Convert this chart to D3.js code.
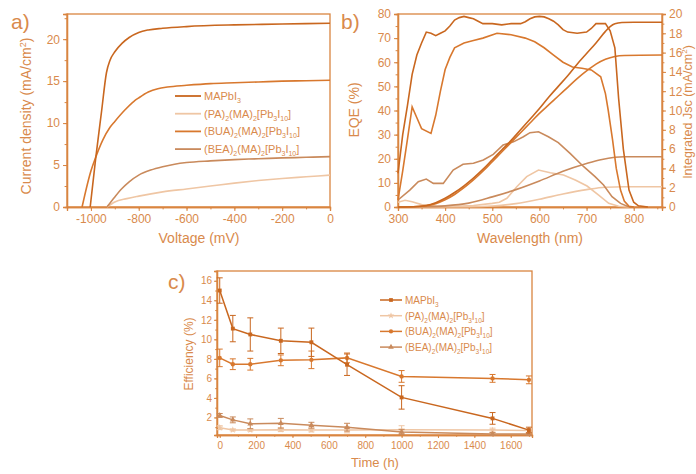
<!DOCTYPE html>
<html>
<head>
<meta charset="utf-8">
<script src="https://cdnjs.cloudflare.com/ajax/libs/d3/7.8.5/d3.min.js"></script>
<style>
  body { margin: 0; background: #fff; }
  text { font-family: "Liberation Sans", Arial, sans-serif; }
</style>
</head>
<body>
<script>
// ---------- data ----------
const seriesNames = ["MAPbI3", "PA", "BUA", "BEA"];
const seriesColor = { MAPbI3: "#c9671f", PA: "#efc6a4", BUA: "#d8782e", BEA: "#c98a5c" };
const legendParts = {
  MAPbI3: [["MAPbI", 0], ["3", 1]],
  PA:  [["(PA)", 0], ["2", 1], ["(MA)", 0], ["2", 1], ["[Pb", 0], ["3", 1], ["I", 0], ["10", 1], ["]", 0]],
  BUA: [["(BUA)", 0], ["2", 1], ["(MA)", 0], ["2", 1], ["[Pb", 0], ["3", 1], ["I", 0], ["10", 1], ["]", 0]],
  BEA: [["(BEA)", 0], ["2", 1], ["(MA)", 0], ["2", 1], ["[Pb", 0], ["3", 1], ["I", 0], ["10", 1], ["]", 0]]
};

// a) J-V curves  [voltage mV, current density mA/cm2]
const jvMAPbI3 = [[-1003,0],[-980,5.8],[-955,11.5],[-935,16],[-920,17.5],[-900,18.5],[-870,19.5],[-840,20.2],[-800,20.8],[-760,21.1],[-700,21.3],[-600,21.5],[-400,21.7],[-200,21.8],[0,21.9]];
const jvBUA = [[-1037,0],[-1000,4.3],[-979,6],[-950,8],[-920,9.5],[-900,10.2],[-860,11.5],[-820,12.6],[-800,13.0],[-760,13.7],[-720,14.1],[-680,14.3],[-600,14.5],[-500,14.7],[-400,14.8],[-300,14.9],[-200,15.0],[-100,15.05],[0,15.1]];
const jvBEA = [[-933,0],[-900,1.2],[-870,2.2],[-840,3.0],[-800,3.8],[-750,4.4],[-700,4.8],[-650,5.1],[-600,5.3],[-500,5.5],[-400,5.65],[-300,5.75],[-200,5.85],[-100,5.92],[0,6.0]];
const jvPA = [[-933,0],[-900,0.6],[-850,1.0],[-800,1.3],[-700,1.8],[-600,2.15],[-500,2.5],[-400,2.85],[-300,3.15],[-200,3.4],[-100,3.6],[0,3.8]];

// b) EQE (%)  [wavelength nm, EQE]
const eqeMAPbI3 = [[300,14],[310,30],[320,42],[330,55],[340,63],[350,68],[360,72.5],[370,72],[380,71],[390,72],[400,73],[410,75],[420,77.5],[430,78.5],[440,79],[450,78.5],[460,78],[470,77],[480,76],[500,76],[520,75.5],[540,76],[560,76],[570,76.8],[580,78],[590,78.8],[600,79],[610,78.8],[620,78],[630,77],[640,75.5],[650,73.5],[660,72.5],[680,72],[700,72.5],[710,74],[720,76],[740,76],[750,73],[760,66],[768,45],[778,24],[790,7],[800,2],[810,0.5],[830,0]];
const eqeBUA = [[300,3],[310,15],[320,28],[330,41.5],[340,37],[350,32.5],[370,30.5],[380,38],[390,48],[400,57],[410,62],[420,66],[440,68],[460,69],[480,70],[510,72],[540,71.4],[570,70],[590,68.5],[610,66],[630,63],[650,60],[670,58],[690,57.5],[710,56.8],[730,54],[740,47],[746,40],[755,28],[763,16],[772,7],[780,2.5],[790,0.3],[800,0]];
const eqeBEA = [[300,2.9],[325,7],[343,10.5],[360,11.6],[375,9.8],[396,9.8],[417,15.3],[438,17.7],[460,18.1],[481,19.5],[502,21.8],[523,25.7],[545,27],[566,29.1],[580,30.8],[598,31.2],[619,29.1],[640,26.7],[665,22.2],[694,16.7],[718,12.6],[736,9.1],[754,4.3],[772,1.5],[789,0.1],[800,0]];
const eqePA = [[300,2],[315,2.8],[330,2.2],[350,1],[380,0.4],[420,0.3],[460,0.6],[500,1.5],[515,2],[531,3.6],[552,8.4],[573,12.6],[598,15.3],[623,14.2],[651,13.3],[676,11.2],[701,8.7],[725,5],[747,1.5],[768,0.3],[790,0]];

// b) integrated Jsc (mA/cm2)
const jscMAPbI3 = [[300,0],[340,0.05],[360,0.15],[380,0.45],[400,0.9],[420,1.5],[440,2.2],[460,3.0],[480,3.9],[500,4.9],[520,5.9],[540,6.9],[560,8.0],[580,9.1],[600,10.2],[620,11.4],[640,12.5],[660,13.6],[680,14.8],[700,15.9],[720,17.0],[740,18.2],[750,18.7],[760,19.0],[775,19.12],[800,19.15],[860,19.15]];
const jscBUA = [[300,0],[340,0.05],[360,0.12],[380,0.35],[400,0.75],[420,1.3],[440,2.0],[460,2.8],[480,3.7],[500,4.7],[520,5.7],[540,6.7],[560,7.7],[580,8.7],[600,9.7],[620,10.6],[640,11.5],[660,12.4],[680,13.3],[700,14.1],[720,14.8],[740,15.3],[760,15.6],[780,15.7],[860,15.75]];
const jscBEA = [[300,0],[350,0.03],[400,0.12],[450,0.4],[500,1.05],[550,1.8],[600,2.7],[650,3.7],[700,4.5],[730,4.9],[760,5.15],[780,5.2],[860,5.2]];
const jscPA = [[300,0],[450,0.03],[500,0.1],[550,0.35],[600,0.8],[650,1.35],[700,1.8],[740,2.05],[780,2.1],[860,2.1]];

// c) stability
const hours = [0, 72, 168, 336, 504, 700, 1000, 1500, 1700];
const effMAPbI3 = [15.0, 11.1, 10.5, 9.85, 9.7, 7.4, 4.05, 1.9, 0.7];
const errMAPbI3 = [1.3, 1.35, 1.7, 1.3, 1.45, 1.1, 1.2, 0.6, 0.3];
const effBUA = [8.1, 7.45, 7.45, 7.85, 7.9, 8.1, 6.2, 6.0, 5.85];
const errBUA = [0.9, 0.55, 0.6, 0.55, 0.9, 0.5, 0.6, 0.4, 0.4];
const effBEA = [2.2, 1.75, 1.35, 1.4, 1.2, 1.0, 0.5, 0.3, 0.3];
const errBEA = [0.2, 0.3, 0.5, 0.5, 0.3, 0.4, 0.25, 0.15, 0.15];
const effPA = [0.95, 0.72, 0.7, 0.75, 0.72, 0.72, 0.75, 0.7, 0.65];
const errPA = [0.2, 0.1, 0.1, 0.2, 0.2, 0.3, 0.4, 0.2, 0.2];

// ---------- drawing ----------
const W = 696, H = 474;
const axisColor = "#d98540", textColor = "#d98a4c";

const svg = d3.select("body").append("svg").attr("width", W).attr("height", H);

function styleAxis(g, fs) {
  g.select(".domain").attr("stroke", axisColor).attr("stroke-width", 1.3);
  g.selectAll(".tick line").attr("stroke", axisColor).attr("stroke-width", 1);
  g.selectAll(".tick text").attr("fill", textColor).style("font-size", fs + "px")
    .style("font-family", '"Liberation Sans", Arial, sans-serif');
}

// minor ticks first, then labelled major ticks (plain hyphen minus, like the original)
function addAxis(axisFn, scale, major, minor, pos, fs, tick, pad) {
  const gMin = svg.append("g").attr("transform", pos)
    .call(axisFn(scale).tickValues(minor).tickSize(tick * 0.6).tickFormat(""));
  styleAxis(gMin, fs);
  const g = svg.append("g").attr("transform", pos)
    .call(axisFn(scale).tickValues(major).tickSize(tick).tickPadding(pad).tickFormat(d => String(d)));
  styleAxis(g, fs);
  return g;
}

function frame(l, t, r, b) {
  svg.append("rect").attr("x", l).attr("y", t).attr("width", r - l).attr("height", b - t)
    .attr("fill", "none").attr("stroke", axisColor).attr("stroke-width", 1.3);
}

function legendText(sel, parts, subSize) {
  let shifted = false;
  parts.forEach(p => {
    const ts = sel.append("tspan").text(p[0]);
    if (p[1] && !shifted) { ts.attr("dy", 3).style("font-size", subSize + "px"); shifted = true; }
    else if (p[1]) { ts.style("font-size", subSize + "px"); }
    else if (!p[1] && shifted) { ts.attr("dy", -3); shifted = false; }
  });
}

function rotLabel(x, y, fs, parts) {
  const t = svg.append("text").attr("transform", `translate(${x},${y}) rotate(-90)`)
    .attr("text-anchor", "middle").attr("fill", textColor).style("font-size", fs + "px");
  parts.forEach(p => {
    const ts = t.append("tspan").text(p[0]);
    if (p[1] === "sup") ts.attr("dy", -5).style("font-size", (fs * 0.65) + "px");
    if (p[1] === "back") ts.attr("dy", 5);
  });
}

// ===== panel a =====
const ax = { l: 67, r: 330, t: 14, b: 207 };
const xA = d3.scaleLinear().domain([-1100, 0]).range([ax.l, ax.r]);
const yA = d3.scaleLinear().domain([0, 23]).range([ax.b, ax.t]);
frame(ax.l, ax.t, ax.r, ax.b);
addAxis(d3.axisBottom, xA, d3.range(-1000, 1, 200), d3.range(-1100, 1, 100), `translate(0,${ax.b})`, 12, 4, 3);
addAxis(d3.axisLeft, yA, [0, 5, 10, 15, 20], d3.range(0, 23, 2.5), `translate(${ax.l},0)`, 12, 4, 3);

const lineA = d3.line().x(d => xA(d[0])).y(d => yA(d[1])).curve(d3.curveMonotoneX);
const jvSets = { MAPbI3: jvMAPbI3, PA: jvPA, BUA: jvBUA, BEA: jvBEA };
["PA", "BEA", "BUA", "MAPbI3"].forEach(n => {
  svg.append("path").attr("d", lineA(jvSets[n])).attr("fill", "none")
    .attr("stroke", seriesColor[n]).attr("stroke-width", 1.6);
});

const legA = svg.append("g");
seriesNames.forEach((n, i) => {
  const y = 96 + i * 17.7;
  legA.append("line").attr("x1", 175).attr("x2", 201).attr("y1", y).attr("y2", y)
    .attr("stroke", seriesColor[n]).attr("stroke-width", 1.8);
  const t = legA.append("text").attr("x", 204).attr("y", y + 4).attr("fill", textColor).style("font-size", "11px");
  legendText(t, legendParts[n], 7);
});

svg.append("text").attr("x", 199).attr("y", 243).attr("text-anchor", "middle")
  .attr("fill", textColor).style("font-size", "14px").text("Voltage (mV)");
rotLabel(31, 116, 14, [["Current density (mA/cm"], ["2", "sup"], [")", "back"]]);
svg.append("text").attr("x", 11).attr("y", 29).attr("fill", textColor).style("font-size", "21px").text("a)");

// ===== panel b =====
const bx = { l: 398, r: 662, t: 14, b: 207 };
const xB = d3.scaleLinear().domain([300, 860]).range([bx.l, bx.r]);
const yB = d3.scaleLinear().domain([0, 80]).range([bx.b, bx.t]);
const yB2 = d3.scaleLinear().domain([0, 20]).range([bx.b, bx.t]);
frame(bx.l, bx.t, bx.r, bx.b);
addAxis(d3.axisBottom, xB, d3.range(300, 801, 100), d3.range(300, 861, 50), `translate(0,${bx.b})`, 12, 4, 3);
addAxis(d3.axisLeft, yB, d3.range(0, 81, 10), d3.range(0, 81, 5), `translate(${bx.l},0)`, 12, 4, 3);
addAxis(d3.axisRight, yB2, d3.range(0, 21, 2), d3.range(0, 21, 1), `translate(${bx.r},0)`, 12, 4, 3);

const lineEqe = d3.line().x(d => xB(d[0])).y(d => yB(d[1]));
const lineJsc = d3.line().x(d => xB(d[0])).y(d => yB2(d[1])).curve(d3.curveMonotoneX);
const eqeSets = { MAPbI3: eqeMAPbI3, PA: eqePA, BUA: eqeBUA, BEA: eqeBEA };
const jscSets = { MAPbI3: jscMAPbI3, PA: jscPA, BUA: jscBUA, BEA: jscBEA };
["PA", "BEA", "BUA", "MAPbI3"].forEach(n => {
  svg.append("path").attr("d", lineEqe(eqeSets[n])).attr("fill", "none")
    .attr("stroke", seriesColor[n]).attr("stroke-width", 1.6);
  svg.append("path").attr("d", lineJsc(jscSets[n])).attr("fill", "none")
    .attr("stroke", seriesColor[n]).attr("stroke-width", 1.6);
});

svg.append("text").attr("x", 530).attr("y", 243).attr("text-anchor", "middle")
  .attr("fill", textColor).style("font-size", "14px").text("Wavelength (nm)");
rotLabel(359, 110, 14, [["EQE (%)"]]);
rotLabel(692, 112, 12.5, [["Integrated  Jsc (mA/cm"], ["2", "sup"], [")", "back"]]);
svg.append("text").attr("x", 341).attr("y", 29).attr("fill", textColor).style("font-size", "21px").text("b)");

// ===== panel c =====
const cx = { l: 217, r: 532, t: 271, b: 435 };
const xC = d3.scaleLinear().domain([-15, 1717]).range([cx.l, cx.r]);
const yC = d3.scaleLinear().domain([0.2, 17]).range([cx.b, cx.t]);
frame(cx.l, cx.t, cx.r, cx.b);
addAxis(d3.axisBottom, xC, d3.range(0, 1601, 200), d3.range(0, 1701, 100), `translate(0,${cx.b})`, 10, 3, 4);
addAxis(d3.axisLeft, yC, d3.range(2, 17, 2), d3.range(1, 17, 1), `translate(${cx.l},0)`, 10, 3, 2);

const symbolOf = { MAPbI3: d3.symbolSquare, PA: d3.symbolStar, BUA: d3.symbolCircle, BEA: d3.symbolTriangle };
const effSets = {
  MAPbI3: [effMAPbI3, errMAPbI3], PA: [effPA, errPA], BUA: [effBUA, errBUA], BEA: [effBEA, errBEA]
};
const lineC = d3.line().x(d => xC(d[0])).y(d => yC(d[1]));
["PA", "BEA", "BUA", "MAPbI3"].forEach(n => {
  const [vals, errs] = effSets[n];
  const pts = hours.map((h, i) => [h, vals[i], errs[i]]);
  const g = svg.append("g");
  g.append("path").attr("d", lineC(pts)).attr("fill", "none")
    .attr("stroke", seriesColor[n]).attr("stroke-width", 1.5);
  const eb = g.selectAll("g.eb").data(pts).enter().append("g");
  eb.append("line").attr("x1", d => xC(d[0])).attr("x2", d => xC(d[0]))
    .attr("y1", d => yC(d[1] - d[2])).attr("y2", d => yC(d[1] + d[2]))
    .attr("stroke", seriesColor[n]).attr("stroke-width", 1);
  [-1, 1].forEach(s => {
    eb.append("line").attr("x1", d => xC(d[0]) - 3).attr("x2", d => xC(d[0]) + 3)
      .attr("y1", d => yC(d[1] + s * d[2])).attr("y2", d => yC(d[1] + s * d[2]))
      .attr("stroke", seriesColor[n]).attr("stroke-width", 1);
  });
  g.selectAll("path.m").data(pts).enter().append("path")
    .attr("transform", d => `translate(${xC(d[0])},${yC(d[1])})`)
    .attr("d", d3.symbol().type(symbolOf[n]).size(15))
    .attr("fill", seriesColor[n]);
});

const legC = svg.append("g");
seriesNames.forEach((n, i) => {
  const y = 300 + i * 15.7;
  legC.append("line").attr("x1", 380).attr("x2", 402).attr("y1", y).attr("y2", y)
    .attr("stroke", seriesColor[n]).attr("stroke-width", 1.5);
  legC.append("path").attr("transform", `translate(391,${y})`)
    .attr("d", d3.symbol().type(symbolOf[n]).size(14)).attr("fill", seriesColor[n]);
  const t = legC.append("text").attr("x", 405).attr("y", y + 4).attr("fill", textColor).style("font-size", "10px");
  legendText(t, legendParts[n], 6.5);
});

svg.append("text").attr("x", 375).attr("y", 467).attr("text-anchor", "middle")
  .attr("fill", textColor).style("font-size", "13px").text("Time (h)");
rotLabel(193, 354, 12, [["Efficiency (%)"]]);
svg.append("text").attr("x", 168).attr("y", 289).attr("fill", textColor).style("font-size", "21px").text("c)");
</script>
</body>
</html>
